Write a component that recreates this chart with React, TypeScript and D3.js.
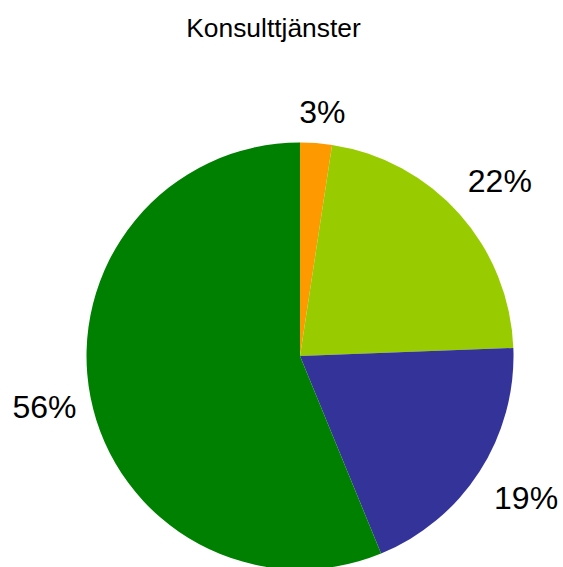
import React from "react";
import * as d3 from "d3";

const title = "Konsulttjänster";
const categories = ["A", "B", "C", "D"];
const values = [2.4, 22.0, 19.4, 56.2];
const labels = ["3%", "22%", "19%", "56%"];
const colors = ["#FF9900", "#99CC00", "#333399", "#008000"];

const W = 563;
const H = 567;
const cx = 300;
const cy = 356;
const R = 213.5;
const labelFont = 32;
const gap = 18;

export default function App() {
  const pie = d3.pie<number>().sort(null).value((d) => d)(values);
  const arc = d3.arc<d3.PieArcDatum<number>>().innerRadius(0).outerRadius(R);
  return (
    <svg
      width={W}
      height={H}
      style={{ position: "absolute", left: 0, top: 0, background: "#fff" }}
      fontFamily="'Liberation Sans', Arial, sans-serif"
    >
      <rect width={W} height={H} fill="#fff" />
      <text x={273.5} y={37} textAnchor="middle" fontSize={26.4} fill="#000">
        {title}
      </text>
      <g transform={`translate(${cx},${cy})`}>
        {pie.map((p, i) => (
          <path key={categories[i]} d={arc(p) || ""} fill={colors[i]} />
        ))}
        {pie.map((p, i) => {
          const a = (p.startAngle + p.endAngle) / 2;
          const s = Math.sin(a);
          const c = Math.cos(a);
          const txt = labels[i];
          const w = (txt.length - 1) * 0.556 * labelFont + 0.85 * labelFont;
          const h = labelFont * 0.716;
          const rr = R + gap + Math.abs(s) * (w / 2) + Math.abs(c) * (h / 2);
          const x = rr * s + 4;
          const y = -rr * c;
          return (
            <text
              key={"l" + i}
              x={x}
              y={y + h / 2 - 1}
              textAnchor="middle"
              fontSize={labelFont}
              fill="#000"
            >
              {txt}
            </text>
          );
        })}
      </g>
    </svg>
  );
}
